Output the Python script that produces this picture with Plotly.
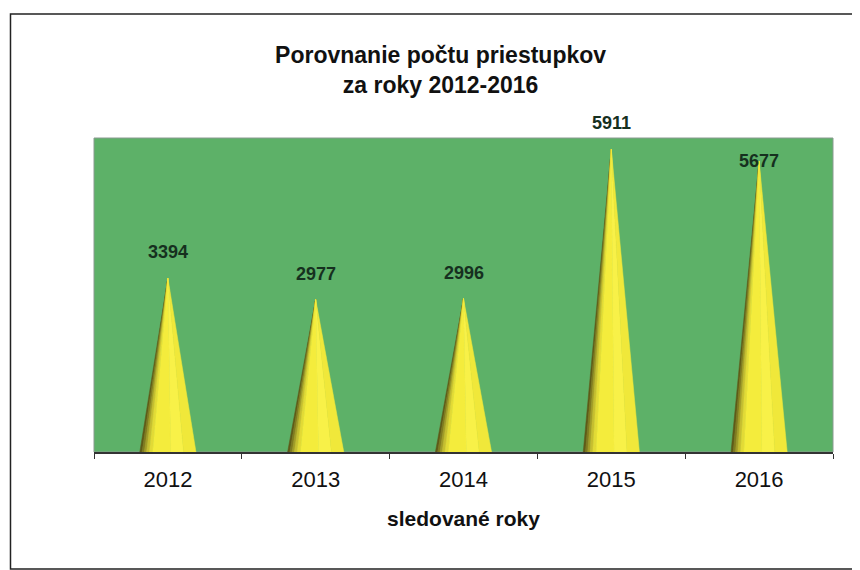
import plotly.graph_objects as go

years = ["2012", "2013", "2014", "2015", "2016"]
values = [3394, 2977, 2996, 5911, 5677]
label_shift = [26, 26, 26, 26, 0]

title_text = "Porovnanie počtu priestupkov<br>za roky 2012-2016"
x_title = "sledované roky"

fig = go.Figure()

hw = 0.19  # half base width in category units
bands = [  # (start fraction, end fraction of base across, colour)
    (0.00, 0.04, "#5f5a18"),
    (0.04, 0.08, "#807a20"),
    (0.08, 0.12, "#a39c28"),
    (0.12, 0.17, "#c6be30"),
    (0.17, 0.23, "#e2da36"),
    (0.23, 0.55, "#f4ec3c"),
    (0.55, 0.78, "#f8f148"),
    (0.78, 1.00, "#f0e83a"),
]
for i, v in enumerate(values):
    for a, b, col in bands:
        x0 = i - hw + 2 * hw * a
        x1 = i - hw + 2 * hw * b
        fig.add_trace(go.Scatter(
            x=[x0, x1, i, x0], y=[0, 0, v, 0],
            fill="toself", fillcolor=col, mode="lines",
            line=dict(width=0.5, color=col), hoverinfo="skip", showlegend=False))

for i, v in enumerate(values):
    fig.add_annotation(x=i, y=v, text=f"<b>{v}</b>", showarrow=False,
                       yshift=label_shift[i], yanchor="middle",
                       font=dict(family="Arial, Liberation Sans", size=18, color="#16301f"))

fig.update_layout(
    width=860, height=570,
    margin=dict(l=86, r=35, t=130, b=126),
    paper_bgcolor="white",
    plot_bgcolor="#5db168",
    title=dict(text=f"<b>{title_text}</b>", x=0.503, xanchor="center", y=0.903, yanchor="middle",
               font=dict(family="Arial, Liberation Sans", size=23, color="#111")),
    xaxis=dict(
        range=[-0.5, 4.5], tickvals=list(range(len(years))), ticktext=years,
        ticks="", showgrid=False, zeroline=False,
        showline=True, linecolor="#333", linewidth=1.5,
        ticklabelstandoff=7,
        tickfont=dict(family="Arial, Liberation Sans", size=22, color="#111"),
        minor=dict(tickvals=[k - 0.5 for k in range(len(years) + 1)], ticks="outside",
                   ticklen=5, tickcolor="#333", showgrid=False),
        title=dict(text=f"<b>{x_title}</b>", standoff=20,
                   font=dict(family="Arial, Liberation Sans", size=21, color="#111")),
    ),
    yaxis=dict(range=[0, 6130], visible=False, showgrid=False, zeroline=False),
    shapes=[
        dict(type="rect", xref="paper", yref="paper", x0=-0.113, x1=1.0325, y0=-0.3726, y1=1.395,
             line=dict(color="#222", width=1.5)),
        dict(type="rect", xref="paper", yref="paper", x0=0, x1=1, y0=0, y1=1,
             line=dict(color="#8a9a90", width=1), layer="below"),
    ],
)

fig.write_html("out.html")
